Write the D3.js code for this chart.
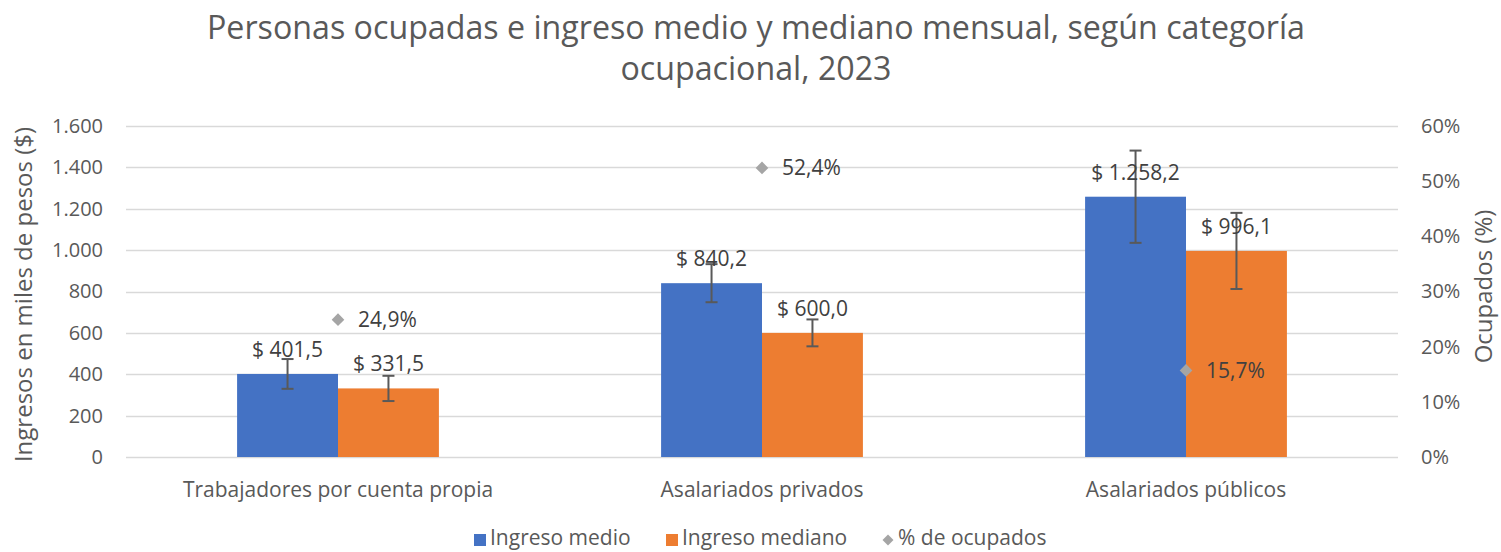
<!DOCTYPE html>
<html><head><meta charset="utf-8">
<script src="https://cdn.jsdelivr.net/npm/d3@7"></script>
<style>body{margin:0;background:#fff}svg{display:block;font-family:"Open Sans",sans-serif}</style>
</head><body>
<svg id="c" width="1501" height="552"></svg>
<script>
const categories = ["Trabajadores por cuenta propia","Asalariados privados","Asalariados públicos"];
const ingresoMedio = [401.5, 840.2, 1258.2];
const ingresoMediano = [331.5, 600.0, 996.1];
const errMedio = [72, 92, 223];
const errMediano = [61, 65, 184];
const pctOcupados = [24.9, 52.4, 15.7];
const leftTicks = [0,200,400,600,800,1000,1200,1400,1600];
const rightTicks = [0,10,20,30,40,50,60];
const seriesNames = ["Ingreso medio","Ingreso mediano","% de ocupados"];
const colors = ["#4472c4","#ed7d31","#a5a5a5"];

const svg = d3.select("#c");
const L=126, R=1398, T=126, B=457;
const fmtN = v => { const s = v.toFixed(1).split("."); return s[0].replace(/\B(?=(\d{3})+(?!\d))/g,".")+","+s[1]; };
const fmtT = v => String(v).replace(/\B(?=(\d{3})+(?!\d))/g,".");

const x = d3.scaleBand().domain(categories).range([L,R]).paddingInner(0).paddingOuter(0);
const y = d3.scaleLinear().domain([0,1600]).range([B,T]);
const y2 = d3.scaleLinear().domain([0,60]).range([B,T]);
const bw = x.bandwidth()*0.238;

// title
svg.append("text").attr("x",756).attr("y",39).attr("text-anchor","middle").attr("font-size",32.2).attr("fill","#595959").text("Personas ocupadas e ingreso medio y mediano mensual, según categoría");
svg.append("text").attr("x",756).attr("y",80).attr("text-anchor","middle").attr("font-size",32.2).attr("fill","#595959").text("ocupacional, 2023");

// grid
svg.append("g").selectAll("line").data(leftTicks).join("line")
 .attr("x1",L).attr("x2",R).attr("y1",d=>Math.round(y(d))+0.5).attr("y2",d=>Math.round(y(d))+0.5)
 .attr("stroke","#d9d9d9").attr("stroke-width",1.5);

// left axis
const ga = svg.append("g").attr("transform",`translate(${L-23},0)`).call(d3.axisLeft(y).tickValues(leftTicks).tickFormat(fmtT).tickSize(0).tickPadding(0));
ga.select(".domain").remove();
ga.selectAll("text").attr("font-size",20).attr("fill","#595959").attr("font-family","Open Sans");
// right axis
const gb = svg.append("g").attr("transform",`translate(${R+23},0)`).call(d3.axisRight(y2).tickValues(rightTicks).tickFormat(d=>d+"%").tickSize(0).tickPadding(0));
gb.select(".domain").remove();
gb.selectAll("text").attr("font-size",20).attr("fill","#595959").attr("font-family","Open Sans");

// axis titles
svg.append("text").attr("transform",`translate(32,${(T+B)/2+3}) rotate(-90)`).attr("text-anchor","middle").attr("font-size",24).attr("fill","#595959").text("Ingresos en miles de pesos ($)");
svg.append("text").attr("transform",`translate(1492,${(T+B)/2-5}) rotate(-90)`).attr("text-anchor","middle").attr("font-size",24).attr("fill","#595959").text("Ocupados (%)");

// category labels
svg.append("g").selectAll("text").data(categories).join("text")
 .attr("x",d=>x(d)+x.bandwidth()/2).attr("y",497).attr("text-anchor","middle").attr("font-size",21).attr("fill","#595959").text(d=>d);

// bars
const c = x.bandwidth()/2;
const barsData = [
  {vals:ingresoMedio, err:errMedio, off:-bw, col:colors[0]},
  {vals:ingresoMediano, err:errMediano, off:0, col:colors[1]}
];
barsData.forEach(s=>{
  const g = svg.append("g");
  g.selectAll("rect").data(categories).join("rect")
   .attr("x",(d)=>x(d)+c+s.off).attr("width",bw)
   .attr("y",(d,i)=>y(s.vals[i])).attr("height",(d,i)=>B-y(s.vals[i])).attr("fill",s.col);
  categories.forEach((d,i)=>{
    const cx = x(d)+c+s.off+bw/2;
    const y1 = y(s.vals[i]+s.err[i]), y0 = y(s.vals[i]-s.err[i]);
    g.append("line").attr("x1",cx).attr("x2",cx).attr("y1",y1).attr("y2",y0).attr("stroke","#595959").attr("stroke-width",2);
    [y1,y0].forEach(yy=>g.append("line").attr("x1",cx-6).attr("x2",cx+6).attr("y1",yy).attr("y2",yy).attr("stroke","#595959").attr("stroke-width",2));
  });
  g.selectAll("text.lbl").data(categories).join("text").attr("class","lbl")
   .attr("x",d=>x(d)+c+s.off+bw/2).attr("y",(d,i)=>y(s.vals[i])-17)
   .attr("text-anchor","middle").attr("font-size",21).attr("fill","#404040")
   .text((d,i)=>"$ "+fmtN(s.vals[i]));
});

// markers
const sym = d3.symbol().type(d3.symbolSquare).size(80);
const gm = svg.append("g");
gm.selectAll("path").data(categories).join("path")
 .attr("transform",(d,i)=>`translate(${x(d)+c},${y2(pctOcupados[i])}) rotate(45)`).attr("d",sym).attr("fill",colors[2]);
gm.selectAll("text").data(categories).join("text")
 .attr("x",d=>x(d)+c+20).attr("y",(d,i)=>y2(pctOcupados[i])+7.5)
 .attr("font-size",21).attr("fill","#404040").text((d,i)=>pctOcupados[i].toFixed(1).replace(".",",")+"%");

// legend
const lg = svg.append("g");
const items = [{x:474,t:seriesNames[0],col:colors[0],k:"sq"},{x:666,t:seriesNames[1],col:colors[1],k:"sq"},{x:882,t:seriesNames[2],col:colors[2],k:"dm"}];
items.forEach(it=>{
  if(it.k==="sq") lg.append("rect").attr("x",it.x).attr("y",534).attr("width",12).attr("height",12).attr("fill",it.col);
  else lg.append("path").attr("transform",`translate(${it.x+6},540) rotate(45)`).attr("d",d3.symbol().type(d3.symbolSquare).size(60)).attr("fill",it.col);
  lg.append("text").attr("x",it.x+16).attr("y",545).attr("font-size",21).attr("fill","#595959").text(it.t);
});
</script>
</body></html>
